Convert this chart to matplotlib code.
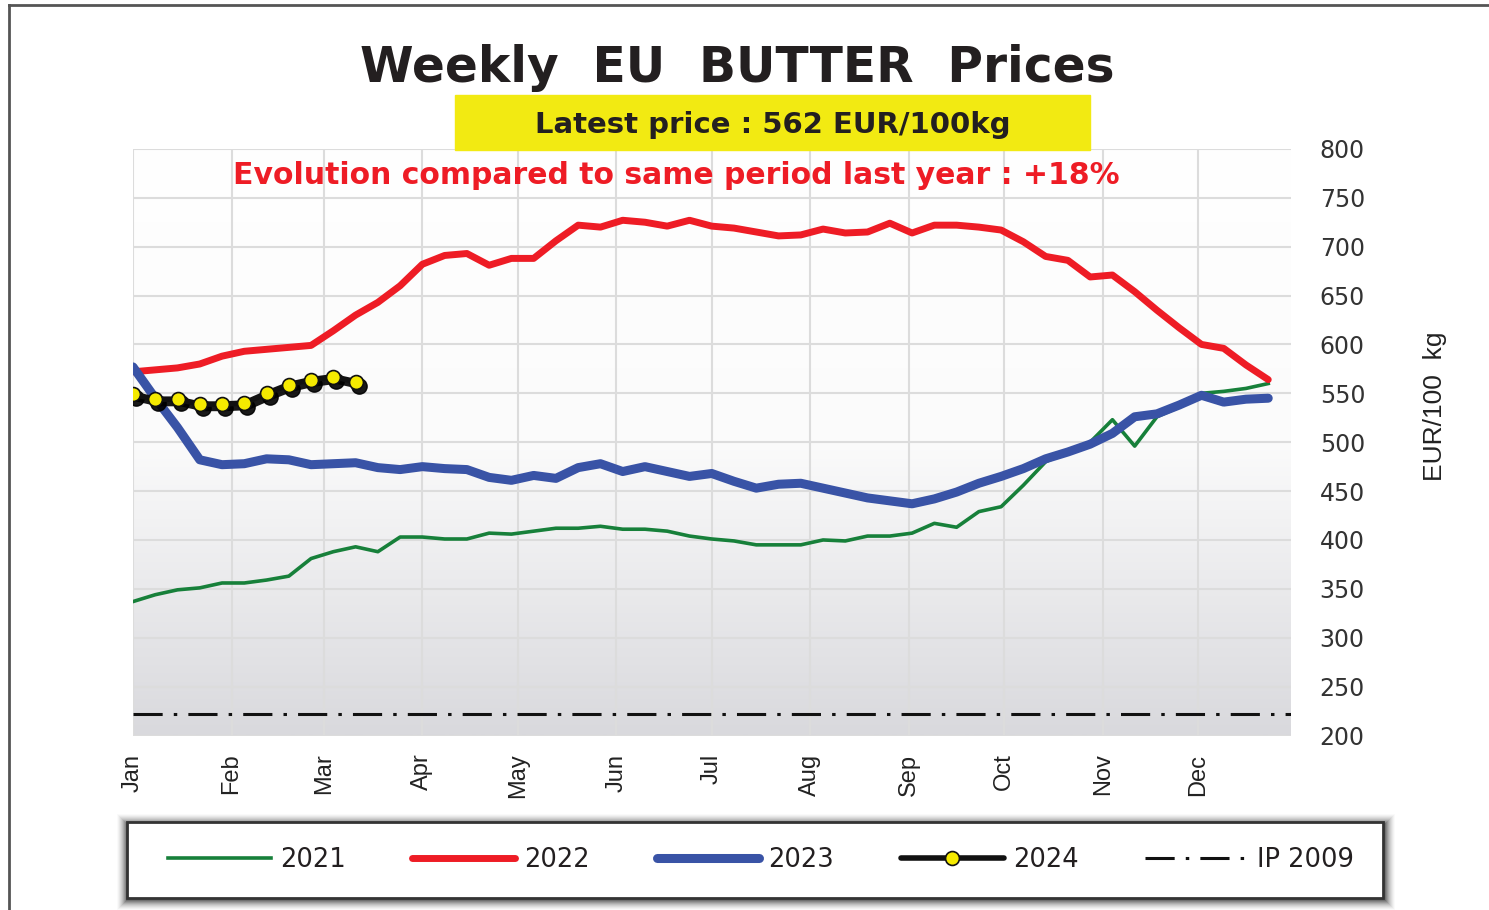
import numpy as np
import matplotlib
matplotlib.use("Agg")
import matplotlib.pyplot as plt
from matplotlib.patches import Rectangle
from matplotlib.lines import Line2D
from matplotlib.colors import LinearSegmentedColormap
from matplotlib.transforms import offset_copy

# weekly prices EUR/100kg, week 1 = first week of January
months = ['Jan', 'Feb', 'Mar', 'Apr', 'May', 'Jun', 'Jul', 'Aug', 'Sep', 'Oct', 'Nov', 'Dec']
month_days = [0, 31, 60, 91, 121, 152, 182, 213, 244, 274, 305, 335]

p2021 = [337, 344, 349, 351, 356, 356, 359, 363, 381, 388, 393, 388, 403, 403, 401, 401,
         407, 406, 409, 412, 412, 414, 411, 411, 409, 404, 401, 399, 395, 395, 395, 400,
         399, 404, 404, 407, 417, 413, 429, 434, 456, 480, 490, 500, 523, 496, 526, 536,
         550, 552, 555, 560]
p2022 = [572, 574, 576, 580, 588, 593, 595, 597, 599, 614, 630, 643, 660, 682, 691, 693,
         681, 688, 688, 706, 722, 720, 727, 725, 721, 727, 721, 719, 715, 711, 712, 718,
         714, 715, 724, 714, 722, 722, 720, 717, 705, 690, 686, 669, 671, 654, 635, 617,
         600, 596, 579, 564]
p2023 = [577, 545, 515, 482, 477, 478, 483, 482, 477, 478, 479, 474, 472, 475, 473, 472,
         464, 461, 466, 463, 474, 478, 470, 475, 470, 465, 468, 460, 453, 457, 458, 453,
         448, 443, 440, 437, 442, 449, 458, 465, 473, 483, 490, 498, 509, 526, 529, 538,
         548, 541, 544, 545]
p2024 = [549, 544, 544, 539, 539, 540, 550, 559, 564, 567, 562]
ip2009 = 221.75

plt.rcParams['lines.scale_dashes'] = False

W, H = 1489, 910
fig = plt.figure(figsize=(W / 100, H / 100), dpi=100)
ax = fig.add_axes([133 / W, 174.5 / H, 1157.5 / W, 586.6 / H])

#background gradient
bg = LinearSegmentedColormap.from_list('bg', ['#ffffff', '#fbfbfb', '#d9d9dd'])
ax.imshow(np.linspace(0, 1, 256).reshape(-1, 1), cmap=bg, extent=[0, 364, 200, 800],
          aspect='auto', origin='upper', zorder=0)

d21 = np.arange(len(p2021)) * 7
d22 = np.arange(len(p2022)) * 7
d23 = np.arange(len(p2023)) * 7
d24 = np.arange(len(p2024)) * 7

ax.plot(d21, p2021, color='#17803a', lw=2.6, label='2021', zorder=3)
ax.plot(d22, p2022, color='#ee1c25', lw=5, label='2022', zorder=3,
        solid_capstyle='round', solid_joinstyle='round')
ax.plot(d23, p2023, color='#3953a6', lw=6.5, label='2023', zorder=3,
        solid_capstyle='round', solid_joinstyle='round')

#shadow under 2024
shadow = offset_copy(ax.transData, fig=fig, x=3, y=-4, units='dots')
ax.plot(d24, p2024, color='black', lw=4.5, marker='o', ms=11, mfc='black', mec='black',
        alpha=0.9, transform=shadow, zorder=4)
ax.plot(d24, p2024, color='#111111', lw=4, marker='o', ms=10, mfc='#f5ea00',
        mec='#111111', mew=1.2, label='2024', zorder=5, solid_capstyle='round')
ax.axhline(ip2009, color='#111111', lw=2.2, dashes=(21, 8, 2.5, 8), label='IP 2009', zorder=3)

ax.set_xlim(0, 364)
ax.set_ylim(200, 800)
ax.set_axisbelow(True)
ax.set_xticks(month_days)
ax.set_xticklabels(months, rotation=90, fontsize=17, color='#222222',
                   family='Liberation Sans')
ax.set_yticks(range(200, 801, 50))
ax.yaxis.tick_right()
ax.tick_params(axis='y', length=0, pad=21, labelsize=17, labelcolor='#333333')
ax.tick_params(axis='x', length=0, pad=13)
ax.grid(True, color='#dcdcdc', lw=1.5)
for s in ax.spines.values():
    s.set_visible(False)

fig.text(1435 / W, 1 - 406 / H, 'EUR/100  kg', rotation=90, ha='center', va='center',
         fontsize=19, family='Liberation Sans', color='#222222')

#titles
fig.text(737 / W, 1 - 68 / H, 'Weekly  EU  BUTTER  Prices', ha='center', va='center',
         fontsize=35, fontweight='bold', color='#231f20')
fig.add_artist(Rectangle((455 / W, 1 - 150 / H), 635 / W, 55 / H, transform=fig.transFigure,
                         color='#f2ea12', zorder=1))
fig.text(773 / W, 1 - 125 / H, 'Latest price : 562 EUR/100kg', ha='center', va='center',
         fontsize=21, fontweight='bold', color='#231f20', zorder=2)
fig.text(676 / W, 1 - 176 / H, 'Evolution compared to same period last year : +18%',
         ha='center', va='center', fontsize=21.5, fontweight='bold', color='#ee1c25', zorder=6)

#outer frame
fig.add_artist(Line2D([9 / W, 1], [1 - 5 / H, 1 - 5 / H], transform=fig.transFigure,
                      color='#555555', lw=2))
fig.add_artist(Line2D([9 / W, 9 / W], [0, 1 - 5 / H], transform=fig.transFigure,
                      color='#555555', lw=2))

#legend box with soft shadow
lx, ly, lw_, lh = 127, 822, 1256, 76
for i, a in zip(range(10, 0, -1), [0.02, 0.03, 0.04, 0.05, 0.06, 0.07, 0.09, 0.11, 0.13, 0.16]):
    fig.add_artist(Rectangle(((lx - i) / W, 1 - (ly + lh + i + 2) / H), (lw_ + 2 * i + 2) / W,
                             (lh + 2 * i) / H, transform=fig.transFigure,
                             color='black', alpha=a, lw=0))
fig.add_artist(Rectangle((lx / W, 1 - (ly + lh) / H), lw_ / W, lh / H, transform=fig.transFigure,
                         facecolor='white', edgecolor='#333333', lw=2))

handles, labels = ax.get_legend_handles_labels()
leg = fig.legend(handles, labels, loc='center', bbox_to_anchor=(761 / W, 1 - 860 / H),
                 ncol=5, frameon=False, fontsize=18.5, handlelength=4.0, handletextpad=0.35,
                 columnspacing=2.6)
for t in leg.get_texts():
    t.set_color('#231f20')

fig.savefig('out.png', dpi=100)
